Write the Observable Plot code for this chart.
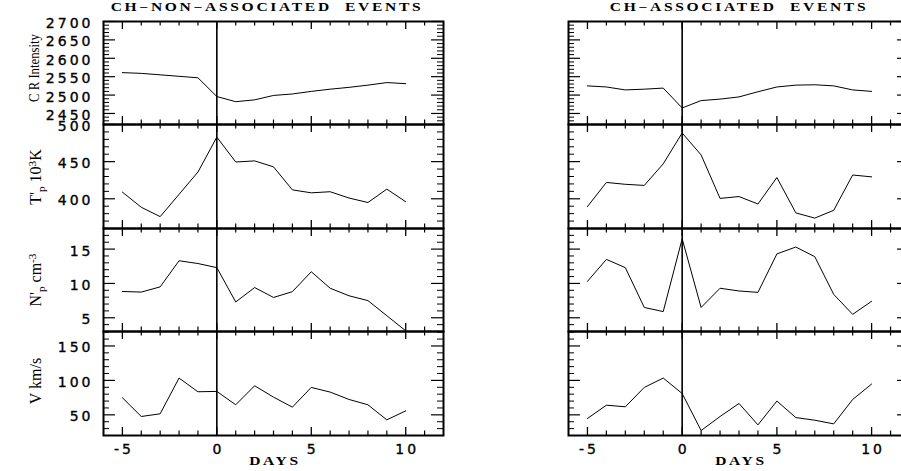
<!DOCTYPE html>
<html><head><meta charset="utf-8">
<script src="https://cdn.jsdelivr.net/npm/d3@7"></script>
<script src="https://cdn.jsdelivr.net/npm/@observablehq/plot@0.6"></script>
<style>
body{margin:0;background:#fff;}
#chart{position:relative;width:901px;height:471px;overflow:hidden;background:#fff;}
#chart svg{position:absolute;}
.ttl{position:absolute;font-family:"Liberation Serif",serif;font-weight:bold;font-size:11.5px;line-height:11.5px;letter-spacing:2px;white-space:pre;color:#000;transform:translateX(-50%) scaleX(1.35);}
.ylab{position:absolute;font-family:"Liberation Serif",serif;font-size:16px;line-height:17px;white-space:nowrap;color:#000;transform:translate(-50%,-50%) rotate(-90deg);}
.sb{position:relative;top:0.35em;font-size:0.7em;}
.sp{position:relative;top:-0.45em;font-size:0.7em;}
</style></head><body><div id="chart"></div>
<script>
// ---- data ----
const days = [-5,-4,-3,-2,-1,0,1,2,3,4,5,6,7,8,9,10];
const crNon   = [2561,2559,2555,2551,2547,2496,2482,2487,2499,2503,2510,2516,2521,2527,2534,2531];
const crAssoc = [2525,2522,2514,2516,2519,2465,2485,2489,2495,2509,2522,2527,2528,2525,2514,2510];
const tNon    = [409,388.6,376,406,436,483,449.5,451,443,412,408,409.5,401,395,413,396];
const tAssoc  = [389.5,422,419.5,418,447,488.6,459,400.5,403,393,428.6,381,374,384.5,432,429.5];
const nNon    = [8.83,8.74,9.5,13.3,12.9,12.3,7.3,9.4,7.96,8.8,11.7,9.3,8.2,7.5,5.3,3.1];
const nAssoc  = [10.3,13.5,12.3,6.5,5.9,16.5,6.5,9.3,8.9,8.7,14.3,15.3,13.9,8.4,5.5,7.4];
const vNon    = [74.8,47.6,51.5,103.4,83.5,84,64.6,92.2,75.7,61.2,89.8,83,72.3,64.6,42.7,55.8];
const vAssoc  = [44.7,64,61.7,89.8,103.4,81,27.2,47.6,66.5,35.4,70,46,42.2,36.9,72.3,94.7];

const xTickLabels = [-5,0,5,10];
const crTicks = [2450,2500,2550,2600,2650,2700];
const tTicks = [400,450,500];
const nTicks = [5,10,15];
const vTicks = [50,100,150];

const columnTitles = ["CH\u2212NON\u2212ASSOCIATED  EVENTS", "CH\u2212ASSOCIATED  EVENTS"];

// ---- layout ----
const specs = [
  {key:"cr", domain:[2420,2700], major:crTicks, minorStep:10, series:[crNon, crAssoc]},
  {key:"t",  domain:[360,500],   major:tTicks,  minorStep:10, series:[tNon, tAssoc]},
  {key:"n",  domain:[3,18],      major:nTicks,  minorStep:1,  series:[nNon, nAssoc]},
  {key:"v",  domain:[20,171],    major:vTicks,  minorStep:10, series:[vNon, vAssoc]}
];
const rowTops = [21,124,228,331];
const rowBots = [124,228,331,435];
const frames = [{l:103, r:443}, {l:568, r:909}];
const svgLeft = [0, 460];
const chart = document.getElementById("chart");

const xMinor = d3.range(-5, 12, 1).filter(d => d % 5 !== 0);
const xMajor = [-5,0,5,10];

function panel(col, row) {
  const spec = specs[row];
  const f = frames[col];
  const ml = f.l - svgLeft[col];
  const fw = f.r - f.l;
  const ph = rowBots[row] - rowTops[row];
  const mt = 14, mb = row === 3 ? 40 : 14, mr = 14;
  const width = ml + fw + mr;
  const height = mt + ph + mb;
  const [lo, hi] = spec.domain;
  const minor = d3.range(Math.ceil(lo / spec.minorStep) * spec.minorStep, hi + 1e-9, spec.minorStep)
    .filter(v => !spec.major.some(m => Math.abs(m - v) < 1e-9) && v > lo && v < hi);
  const values = spec.series[col];
  const marks = [
    Plot.tickY(spec.major, {y: d => d, insetRight: fw - 12, stroke: "#000", strokeWidth: 1.2}),
    Plot.tickY(spec.major, {y: d => d, insetLeft: fw - 12, stroke: "#000", strokeWidth: 1.2}),
    Plot.tickY(minor, {y: d => d, insetRight: fw - 6, stroke: "#000", strokeWidth: 1}),
    Plot.tickY(minor, {y: d => d, insetLeft: fw - 6, stroke: "#000", strokeWidth: 1}),
    Plot.tickX(xMajor, {x: d => d, insetBottom: ph - 8, stroke: "#000", strokeWidth: 1.3}),
    Plot.tickX(xMajor, {x: d => d, insetTop: ph - 8, stroke: "#000", strokeWidth: 1.3}),
    Plot.tickX(xMinor, {x: d => d, insetBottom: ph - 4.5, stroke: "#000", strokeWidth: 1.2}),
    Plot.tickX(xMinor, {x: d => d, insetTop: ph - 4.5, stroke: "#000", strokeWidth: 1.2}),
    Plot.ruleX([0], {stroke: "#000", strokeWidth: 1.6}),
    Plot.line(values, {x: days, y: values, stroke: "#000", strokeWidth: 1}),
    Plot.frame({stroke: "#000", strokeWidth: 2})
  ];
  if (col === 0) {
    marks.push(Plot.axisY(spec.major, {anchor: "left", tickSize: 0, tickPadding: 10, dy: 2,
      tickFormat: d => String(d), label: null, textStroke: "#000", textStrokeWidth: 0.35}));
  }
  if (row === 3) {
    marks.push(Plot.axisX(xTickLabels, {anchor: "bottom", tickSize: 0, tickPadding: 9, dx: 1.5,
      tickFormat: d => String(d), label: null, textStroke: "#000", textStrokeWidth: 0.35}));
  }
  const svg = Plot.plot({
    width, height, marginLeft: ml, marginRight: mr, marginTop: mt, marginBottom: mb,
    x: {domain: [-6, 12], axis: null},
    y: {domain: spec.domain, axis: null},
    style: {fontFamily: "'DejaVu Sans', sans-serif", fontSize: "14px", letterSpacing: "3px",
            background: "transparent", overflow: "visible", color: "#000"},
    marks
  });
  svg.style.left = svgLeft[col] + "px";
  svg.style.top = (rowTops[row] - mt) + "px";
  chart.appendChild(svg);
}

for (let c = 0; c < 2; c++) for (let r = 0; r < 4; r++) panel(c, r);

function addDiv(cls, html, left, top, extra) {
  const d = document.createElement("div");
  d.className = cls;
  d.innerHTML = html;
  d.style.left = left + "px";
  d.style.top = top + "px";
  if (extra) d.style.transform = extra;
  chart.appendChild(d);
}
// column titles & x-axis titles
addDiv("ttl", columnTitles[0], 266.5, 2.3);
addDiv("ttl", columnTitles[1], 738.5, 2.3);
addDiv("ttl", "DAYS", 274.5, 455.6);
addDiv("ttl", "DAYS", 740.5, 455.6);
// y-axis titles
addDiv("ylab", '<span style="font-size:15px;line-height:16px">C R Intensity</span>', 32.5, 68,
       "translate(-50%,-50%) rotate(-90deg) scaleX(0.85)");
addDiv("ylab", "T'<span class=\"sb\">p</span> 10<span class=\"sp\">3</span>K", 36, 177);
addDiv("ylab", "N'<span class=\"sb\">p</span> cm<span class=\"sp\">-3</span>", 36, 280);
addDiv("ylab", "V km/s", 35, 381);
</script></body></html>
